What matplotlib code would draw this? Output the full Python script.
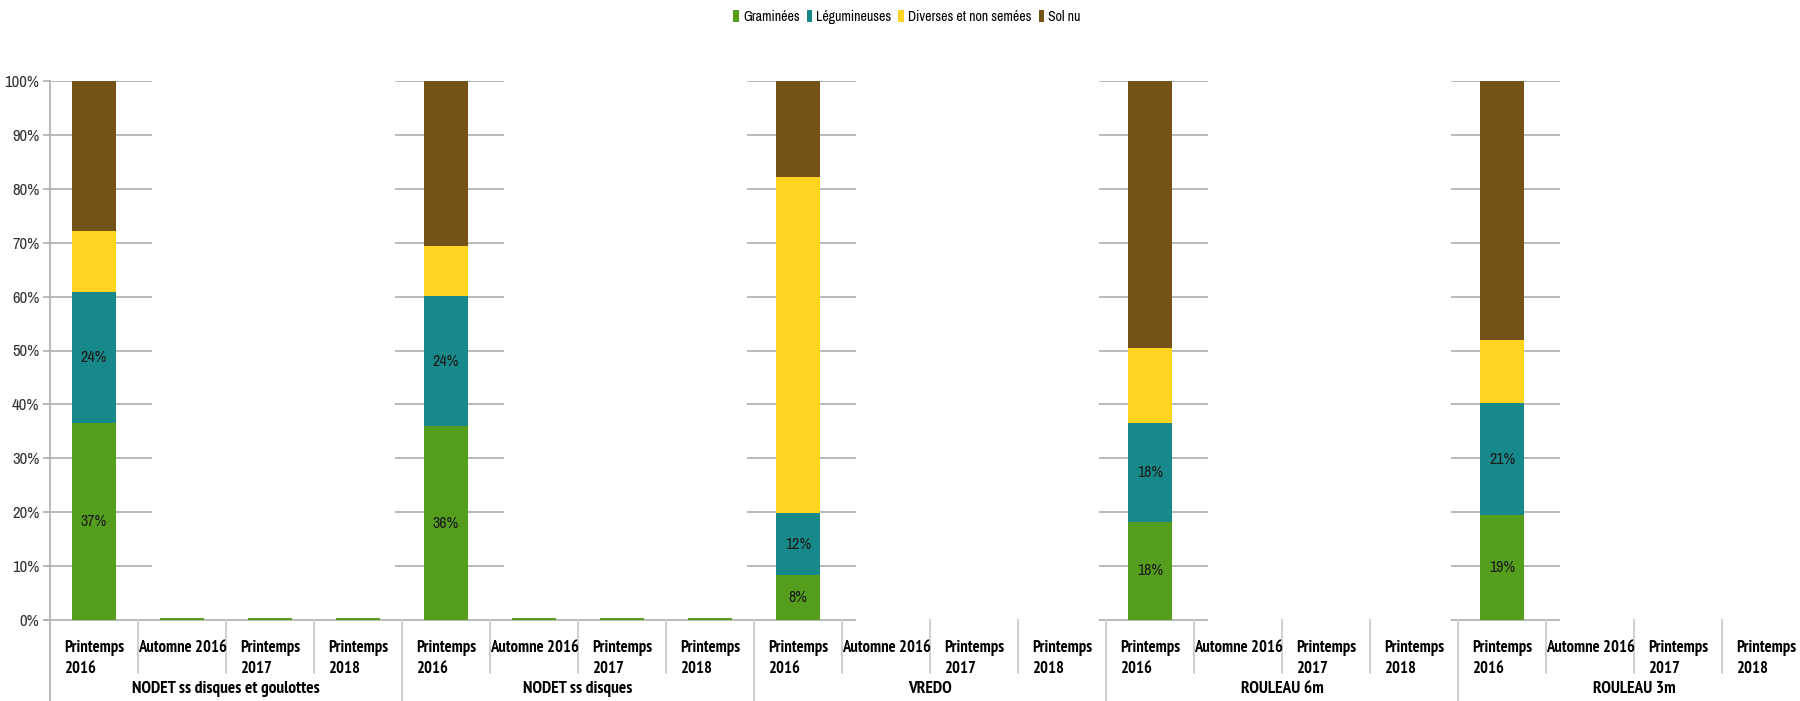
import matplotlib
matplotlib.use("Agg")
import matplotlib.pyplot as plt
import matplotlib.transforms as mtransforms
from matplotlib.patches import Patch

plt.rcParams['font.family'] = ['Archivo Narrow', 'Liberation Sans', 'DejaVu Sans']
BOLD_FAMILY = ['PT Sans Narrow', 'Liberation Sans', 'DejaVu Sans']

groups = ["NODET ss disques et goulottes", "NODET ss disques", "VREDO",
          "ROULEAU 6m", "ROULEAU 3m"]
seasons = ["Printemps\n2016", "Automne 2016", "Printemps\n2017", "Printemps\n2018"]
series = ["Graminées", "Légumineuses", "Diverses et non semées", "Sol nu"]
colors = ["#559e1d", "#18898a", "#ffd320", "#735318"]

# one value per (group, season), in percent
graminees = [36.6, 0.3, 0.3, 0.3,
             35.9, 0.3, 0.3, 0.3,
             8.3, 0, 0, 0,
             18.2, 0, 0, 0,
             19.4, 0, 0, 0]
legumineuses = [24.3, 0, 0, 0,
                24.2, 0, 0, 0,
                11.6, 0, 0, 0,
                18.4, 0, 0, 0,
                20.9, 0, 0, 0]
diverses = [11.3, 0, 0, 0,
            9.2, 0, 0, 0,
            62.2, 0, 0, 0,
            13.8, 0, 0, 0,
            11.6, 0, 0, 0]
sol_nu = [27.8, 0, 0, 0,
          30.7, 0, 0, 0,
          17.9, 0, 0, 0,
          49.6, 0, 0, 0,
          48.1, 0, 0, 0]

values = [graminees, legumineuses, diverses, sol_nu]
labelled = [True, True, False, False]

n = len(groups) * len(seasons)
x = list(range(n))

W, H = 1800, 701
top_px, base_px, left_px = 81, 620, 50
fig = plt.figure(figsize=(W / 100, H / 100), dpi=100)
ax = fig.add_axes([left_px / W, 1 - base_px / H, 1760 / W, (base_px - top_px) / H])
ax.set_xlim(-0.5, n - 0.5)
ax.set_ylim(0, 100)

def below(px):
    # pixel row of the figure -> axes fraction (negative below the baseline)
    return -(px - base_px) / (base_px - top_px)

grid_c = "#b3b3b3"
# gridlines are only drawn around the first bar of each group
yticks = list(range(10, 101, 10))
for g in range(len(groups)):
    c = g * len(seasons)
    x0 = max(c - 0.58, -0.56)
    ax.hlines(yticks, x0, c + 0.66, color=grid_c, lw=1.3, zorder=1)
# baseline
for x0, x1 in [(-0.56, 8.66), (11.42, 12.66), (15.42, 16.66)]:
    ax.hlines(0, x0, x1, color=grid_c, lw=1.3, zorder=1, clip_on=False)

bottom = [0.0] * n
for vals, name, col, lab in zip(values, series, colors, labelled):
    ax.bar(x, vals, width=0.5, bottom=bottom, color=col, label=name, zorder=2)
    if lab:
        for xi, v, b in zip(x, vals, bottom):
            if v >= 1:
                ax.text(xi, b + v / 2, f"{v:.0f}%", ha="center", va="center",
                        fontsize=11.5, color="#1a1a1a", zorder=3)
    bottom = [b + v for b, v in zip(bottom, vals)]

for s in ax.spines.values():
    s.set_visible(False)
ax.set_xticks([])
ax.set_yticks([0] + yticks)
ax.set_yticklabels([f"{t}%" for t in [0] + yticks], fontsize=12, color="#333333")
ax.tick_params(axis="y", length=5, color=grid_c, width=1.3, pad=2.5)

trans = mtransforms.blended_transform_factory(ax.transData, ax.transAxes)
# left axis line running down through the label area
ax.plot([-0.5, -0.5], [1, below(H)], transform=trans, color=grid_c, lw=1.3,
        clip_on=False)

# category separators and labels
for i in range(1, n):
    y1 = below(H) if i % len(seasons) == 0 else below(673)
    ax.plot([i - 0.5, i - 0.5], [0, y1], transform=trans, color="#cccccc",
            lw=1.3, clip_on=False)
for i in range(n):
    ax.text(i, below(640), seasons[i % len(seasons)], transform=trans,
            ha="center", va="top", multialignment="left", fontsize=12,
            family=BOLD_FAMILY, fontweight="bold", linespacing=1.45, clip_on=False)
for g, name in enumerate(groups):
    c = g * len(seasons) + 1.5
    ax.text(c, below(689), name, transform=trans, ha="center", va="center",
            fontsize=12.5, family=BOLD_FAMILY, fontweight="bold", clip_on=False)

handles = [Patch(facecolor=c, edgecolor="none") for c in colors]
fig.legend(handles, series, loc="center", bbox_to_anchor=(907 / W, 1 - 17 / H),
           ncol=4, frameon=False, fontsize=10, handlelength=0.4, handleheight=1.0,
           handletextpad=0.3, columnspacing=0.5)

fig.savefig("out.png", dpi=100)
